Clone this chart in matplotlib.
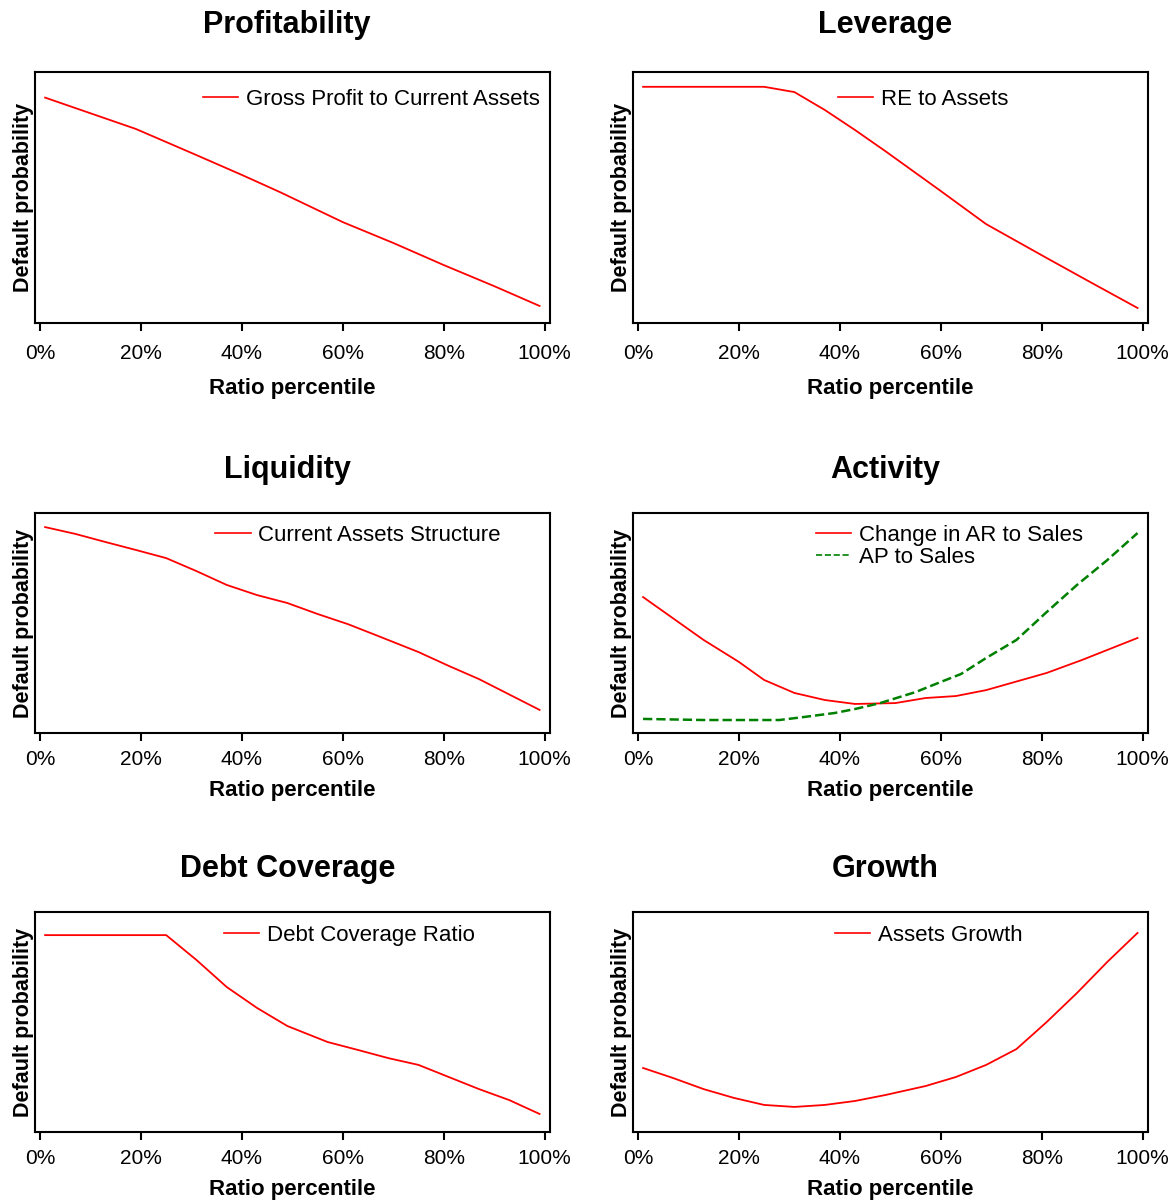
import matplotlib
matplotlib.use('Agg')
import matplotlib.pyplot as plt

plt.rcParams['font.family'] = ['Liberation Sans', 'DejaVu Sans']

# ratio percentiles (x) and relative default probability (y, fraction of axis)
prof_x = [1, 19, 31, 40, 47.5, 60, 70, 80, 90, 99]
prof_y = [0.898, 0.773, 0.669, 0.590, 0.522, 0.402, 0.319, 0.231, 0.147, 0.068]

lev_x = [1, 25, 31, 37, 43, 49, 60, 69, 81, 90, 99]
lev_y = [0.941, 0.941, 0.920, 0.849, 0.769, 0.685, 0.526, 0.394, 0.259, 0.159, 0.060]

liq_x = [1, 7, 13, 19, 25, 31, 37, 43, 49, 55, 61, 67, 75, 81, 87, 99]
liq_y = [0.936, 0.905, 0.868, 0.832, 0.795, 0.736, 0.673, 0.627, 0.591, 0.541,
         0.495, 0.441, 0.368, 0.305, 0.245, 0.105]

ar_x = [1, 13, 20, 25, 31, 37, 43, 51, 57, 63, 69, 81, 88, 99]
ar_y = [0.618, 0.423, 0.323, 0.241, 0.182, 0.150, 0.132, 0.136, 0.159, 0.168,
        0.195, 0.273, 0.332, 0.432]
ap_x = [1, 13, 28, 33, 39, 43, 48, 55, 60, 64, 69, 75, 81, 87, 93, 99]
ap_y = [0.064, 0.059, 0.059, 0.073, 0.091, 0.109, 0.136, 0.186, 0.232, 0.268,
        0.341, 0.423, 0.550, 0.673, 0.786, 0.909]

debt_x = [1, 25, 31, 37, 43, 49, 57, 63, 69, 75, 81, 87, 93, 99]
debt_y = [0.895, 0.895, 0.782, 0.659, 0.564, 0.482, 0.409, 0.373, 0.336, 0.305,
          0.250, 0.195, 0.145, 0.082]

gro_x = [1, 7, 13, 19, 25, 31, 37, 43, 49, 57, 63, 69, 75, 81, 87, 93, 99]
gro_y = [0.291, 0.245, 0.195, 0.155, 0.123, 0.114, 0.123, 0.141, 0.168, 0.209,
         0.250, 0.305, 0.377, 0.500, 0.632, 0.773, 0.905]

xticks = [0, 20, 40, 60, 80, 100]
xtick_labels = ['0%', '20%', '40%', '60%', '80%', '100%']

fig = plt.figure(figsize=(11.75, 12.04), dpi=100)

# title, [left, bottom, width, height], title pad, tick pad, xlabel pad, legend anchor, series
panels = [
    ('Profitability', [0.0298, 0.7317, 0.438, 0.2085], 28, 9, 11, (0.326, 0.932),
     [(prof_x, prof_y, 'Gross Profit to Current Assets', 'red', '-')]),
    ('Leverage', [0.5387, 0.7317, 0.438, 0.2085], 28, 9, 11, (0.398, 0.932),
     [(lev_x, lev_y, 'RE to Assets', 'red', '-')]),
    ('Liquidity', [0.0298, 0.3912, 0.438, 0.1827], 25.5, 6, 8, (0.350, 0.947),
     [(liq_x, liq_y, 'Current Assets Structure', 'red', '-')]),
    ('Activity', [0.5387, 0.3912, 0.438, 0.1827], 25.5, 6, 8, (0.355, 0.947),
     [(ar_x, ar_y, 'Change in AR to Sales', 'red', '-'),
      (ap_x, ap_y, 'AP to Sales', 'green', '--')]),
    ('Debt Coverage', [0.0298, 0.0598, 0.438, 0.1827], 25.5, 6, 8, (0.367, 0.942),
     [(debt_x, debt_y, 'Debt Coverage Ratio', 'red', '-')]),
    ('Growth', [0.5387, 0.0598, 0.438, 0.1827], 25.5, 6, 8, (0.392, 0.942),
     [(gro_x, gro_y, 'Assets Growth', 'red', '-')]),
]

for title, rect, tpad, kpad, lpad, anchor, series in panels:
    ax = fig.add_axes(rect)
    for xs, ys, label, color, ls in series:
        lw = 1.3 if ls == '-' else 1.8
        ax.plot(xs, ys, color=color, linestyle=ls, linewidth=lw, label=label)
    ax.set_xlim(-1, 101)
    ax.set_ylim(0, 1)
    ax.set_xticks(xticks)
    ax.set_xticklabels(xtick_labels, fontsize=15)
    ax.set_yticks([])
    ax.tick_params(axis='x', direction='out', length=6, width=1.5, pad=kpad)
    for sp in ax.spines.values():
        sp.set_linewidth(1.5)
    ax.set_title(title, fontsize=22, fontweight='bold', pad=tpad, x=0.49)
    ax.set_xlabel('Ratio percentile', fontsize=16, fontweight='bold', labelpad=lpad)
    ax.set_ylabel('Default probability', fontsize=15.5, fontweight='bold', labelpad=1)
    leg = ax.legend(loc='upper left', bbox_to_anchor=anchor, frameon=False,
                    fontsize=16, handlelength=1.6, handletextpad=0.35,
                    borderpad=0, borderaxespad=0, labelspacing=0.05)
    for h in leg.get_lines():
        h.set_linewidth(1.2)

fig.savefig('out.png', dpi=100)
